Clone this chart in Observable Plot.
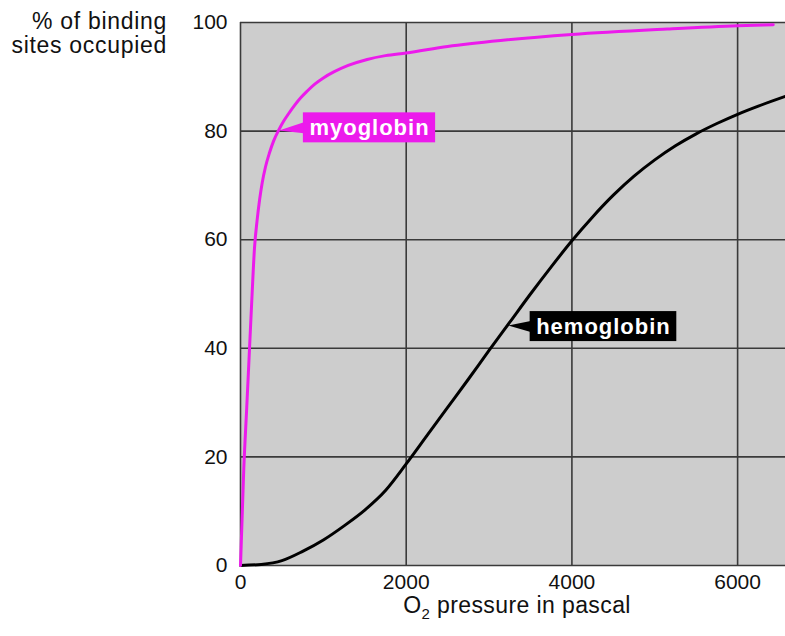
<!DOCTYPE html>
<html>
<head>
<meta charset="utf-8">
<script src="https://cdn.jsdelivr.net/npm/d3@7"></script>
<script src="https://cdn.jsdelivr.net/npm/@observablehq/plot@0.6"></script>
<style>
  html, body { margin: 0; padding: 0; background: #fff; }
  #chart { width: 785px; height: 636px; }
</style>
</head>
<body>
<div id="chart"></div>
<script>
// ---- data ----
const myoPressure = [0, 40, 75, 109, 140, 169, 200, 230, 262, 300, 350, 400, 462, 520, 580, 650, 724, 800, 900, 1000, 1126, 1300, 1529, 1750, 2000, 2500, 3138, 4000, 5150, 6000, 6430];
const myoOccupied = [0, 18, 29, 40, 50, 58.5, 63.5, 67.3, 70.5, 73.3, 76.0, 78.2, 80.2, 81.8, 83.2, 84.7, 86.1, 87.3, 88.7, 89.8, 90.9, 92.1, 93.2, 93.9, 94.4, 95.6, 96.7, 97.8, 98.8, 99.4, 99.6];

const hbPressure = [0, 250, 500, 750, 1000, 1250, 1500, 1750, 2000, 2250, 2500, 2750, 3000, 3250, 3500, 3750, 4000, 4250, 4500, 4750, 5000, 5250, 5500, 5750, 6000, 6250, 6578];
const hbOccupied = [0, 0.2, 0.9, 2.6, 4.7, 7.3, 10.2, 13.8, 18.7, 23.9, 29.1, 34.3, 39.6, 44.8, 50.0, 55.0, 59.8, 64.2, 68.2, 71.7, 74.7, 77.3, 79.5, 81.4, 83.1, 84.6, 86.4];

const xTicks = [0, 2000, 4000, 6000];
const yTicks = [0, 20, 40, 60, 80, 100];
const xMax = 6578;

const labelNames = ["myoglobin", "hemoglobin"];
const labelX = [1557, 4381];
const labelY = [80.6, 44.0];
const labelTipX = [470, 3238];
const labelTipY = [80, 44.1];

const yTitleLines = ["% of binding", "sites occupied"];
const xTitle = { main: "O", sub: "2", rest: " pressure in pascal" };

// ---- styles ----
const MAGENTA = "#ec1aec";
const BLACK = "#000000";
const labelColors = [MAGENTA, BLACK];
const FONT = "'Liberation Sans', Arial, Helvetica, sans-serif";

const myo = myoPressure.map((p, i) => ({ p, s: myoOccupied[i] }));
const hb = hbPressure.map((p, i) => ({ p, s: hbOccupied[i] }));
const labels = labelNames.map((name, i) => ({ name, x: labelX[i], y: labelY[i], tx: labelTipX[i], ty: labelTipY[i], color: labelColors[i] }));

const plot = Plot.plot({
  width: 785,
  height: 636,
  marginLeft: 240,
  marginRight: 0,
  marginTop: 22,
  marginBottom: 71,
  style: { fontFamily: FONT, fontSize: "21px", color: "#111", background: "transparent", overflow: "visible" },
  x: { domain: [0, xMax], ticks: xTicks, tickSize: 0, tickPadding: 9, label: null, tickFormat: d => String(d) },
  y: { domain: [0, 100], ticks: yTicks, tickSize: 0, tickPadding: 13, label: null },
  marks: [
    Plot.frame({ fill: "#cdcdcd", stroke: "none" }),
    Plot.ruleX(xTicks, { stroke: "#3a3a3a", strokeWidth: 1.6 }),
    Plot.ruleY(yTicks, { stroke: "#3a3a3a", strokeWidth: 1.6 }),
    Plot.line(hb, { x: "p", y: "s", stroke: BLACK, strokeWidth: 3, curve: "monotone-x" }),
    Plot.line(myo, { x: "p", y: "s", stroke: MAGENTA, strokeWidth: 3, curve: "monotone-x" }),
    Plot.text(labels, { x: "x", y: "y", text: "name", fill: "white", fontWeight: "bold", fontSize: 22, textAnchor: "middle" })
  ]
});

document.getElementById("chart").append(plot);

const svg = d3.select(plot);
const xs = plot.scale("x");
const ys = plot.scale("y");

// label boxes with pointers, placed behind the label texts
const textG = svg.selectAll("g[aria-label='text']").filter(function () {
  return d3.select(this).selectAll("text").size() === labels.length;
});
const textNodes = textG.selectAll("text").nodes();
textNodes.forEach(n => n.setAttribute("letter-spacing", "1"));
const boxG = svg.insert("g", () => textG.node()).attr("aria-label", "label-boxes");
textNodes.forEach((node, i) => {
  const d = labels[i];
  const bb = node.getBBox();
  const cx = xs.apply(d.x);
  const cy = ys.apply(d.y);
  const padX = 6;
  const w = bb.width + 2 * padX;
  const left = cx - w / 2;
  const h = 30;
  boxG.append("rect")
    .attr("x", left).attr("y", cy - h / 2)
    .attr("width", w).attr("height", h)
    .attr("fill", d.color);
  const tx = xs.apply(d.tx), ty = ys.apply(d.ty);
  boxG.append("polygon")
    .attr("points", `${tx},${ty} ${left + 1},${cy - 5} ${left + 1},${cy + 6}`)
    .attr("fill", d.color);
});

// y-axis title (two lines, right aligned)
const yt = svg.append("text")
  .attr("text-anchor", "end")
  .attr("font-family", FONT)
  .attr("font-size", 23)
  .attr("letter-spacing", "0.7")
  .attr("fill", "#111");
yt.append("tspan").attr("x", 167).attr("y", 29).text(yTitleLines[0]);
yt.append("tspan").attr("x", 167).attr("y", 53).text(yTitleLines[1]);

// x-axis title with subscript
const xt = svg.append("text")
  .attr("x", 517).attr("y", 613)
  .attr("text-anchor", "middle")
  .attr("font-family", FONT)
  .attr("font-size", 23)
  .attr("letter-spacing", "0.4")
  .attr("fill", "#111");
xt.append("tspan").text(xTitle.main);
xt.append("tspan").attr("font-size", 15).attr("dy", 6).text(xTitle.sub);
xt.append("tspan").attr("dy", -6).text(xTitle.rest);
</script>
</body>
</html>
